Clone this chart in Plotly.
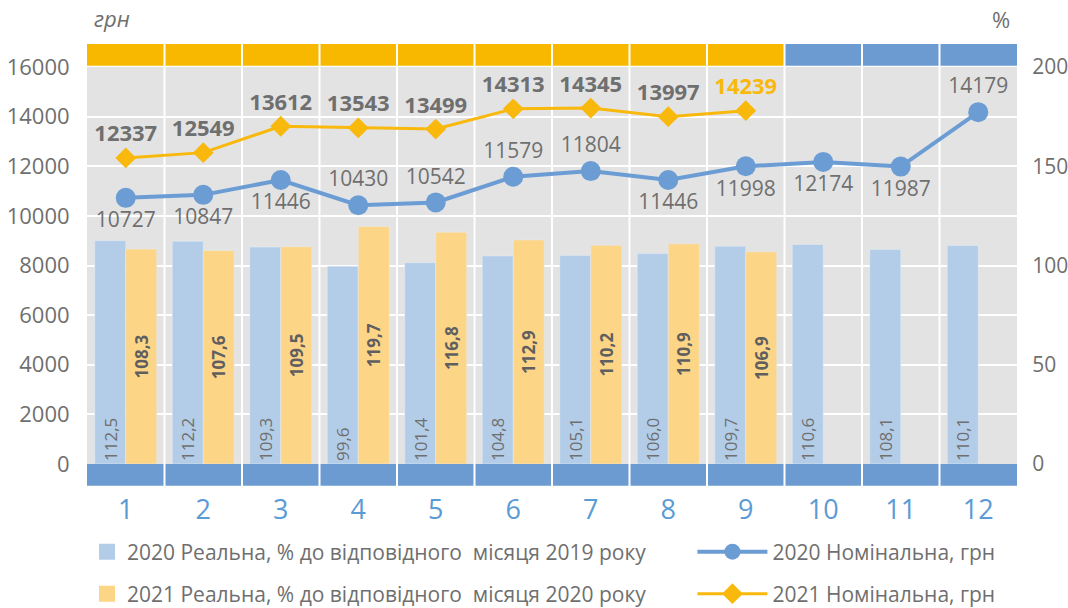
import plotly.graph_objects as go

months = [1, 2, 3, 4, 5, 6, 7, 8, 9, 10, 11, 12]
real_2020 = [112.5, 112.2, 109.3, 99.6, 101.4, 104.8, 105.1, 106.0, 109.7, 110.6, 108.1, 110.1]
real_2021 = [108.3, 107.6, 109.5, 119.7, 116.8, 112.9, 110.2, 110.9, 106.9]
nom_2020 = [10727, 10847, 11446, 10430, 10542, 11579, 11804, 11446, 11998, 12174, 11987, 14179]
nom_2021 = [12337, 12549, 13612, 13543, 13499, 14313, 14345, 13997, 14239]
pos_2020 = ["bottom center", "bottom center", "bottom center", "top center", "top center",
            "top center", "top center", "bottom center", "bottom center", "bottom center",
            "bottom center", "top center"]

name_r20 = "2020 Реальна, % до відповідного  місяця 2019 року"
name_r21 = "2021 Реальна, % до відповідного  місяця 2020 року"
name_n20 = "2020 Номінальна, грн"
name_n21 = "2021 Номінальна, грн"

FONT = "Open Sans"
GRAY = "#6f6f6f"
BLUE_BAR = "#b3cde8"
ORANGE_BAR = "#fdd587"
BLUE_LINE = "#6b9dd4"
ORANGE_LINE = "#f9b80c"
BAND_OR = "#f9b800"
BAND_BL = "#6b9bd1"

def fmt(v):
    return f"{v:.1f}".replace(".", ",")

fig = go.Figure()

fig.add_trace(go.Bar(
    x=months, y=real_2020, name=name_r20, marker_color=BLUE_BAR,
    text=[fmt(v) for v in real_2020], textposition="inside", insidetextanchor="start",
    textangle=-90, textfont=dict(family=FONT, size=17, color=GRAY),
    yaxis="y", showlegend=False,
))
fig.add_trace(go.Bar(
    x=months[:len(real_2021)], y=real_2021, name=name_r21, marker_color=ORANGE_BAR,
    text=["<b>" + fmt(v) + "</b>" for v in real_2021], textposition="inside",
    insidetextanchor="middle", textangle=-90,
    textfont=dict(family=FONT, size=17, color="#5f5f5f"),
    yaxis="y", showlegend=False,
))
fig.add_trace(go.Scatter(
    x=months, y=nom_2020, name=name_n20, mode="lines+markers+text",
    line=dict(color=BLUE_LINE, width=4), marker=dict(size=20, color=BLUE_LINE),
    text=[str(v) for v in nom_2020], textposition=pos_2020,
    textfont=dict(family=FONT, size=21, color=GRAY),
    yaxis="y2", legend="legend3", cliponaxis=False,
))
lab_colors = [GRAY] * (len(nom_2021) - 1) + [ORANGE_LINE]
fig.add_trace(go.Scatter(
    x=months[:len(nom_2021)], y=nom_2021, name=name_n21, mode="lines+markers+text",
    line=dict(color=ORANGE_LINE, width=3), marker=dict(size=16, color=ORANGE_LINE, symbol="diamond"),
    text=["<b>" + str(v) + "</b>" for v in nom_2021], textposition="top center",
    textfont=dict(family=FONT, size=22, color=lab_colors),
    yaxis="y2", legend="legend4", cliponaxis=False,
))
# legend proxies for the bar series (square swatches)
fig.add_trace(go.Scatter(x=[None], y=[None], name=name_r20, mode="markers",
                         marker=dict(symbol="square", size=18, color=BLUE_BAR),
                         yaxis="y", legend="legend"))
fig.add_trace(go.Scatter(x=[None], y=[None], name=name_r21, mode="markers",
                         marker=dict(symbol="square", size=18, color=ORANGE_BAR),
                         yaxis="y", legend="legend2"))

shapes = []
for i, m in enumerate(months):
    top_col = BAND_OR if i < len(nom_2021) else BAND_BL
    shapes.append(dict(type="rect", xref="x", yref="paper", x0=m - 0.5, x1=m + 0.5,
                       y0=1.003, y1=1.058, fillcolor=top_col, line_width=0, layer="below"))
    shapes.append(dict(type="rect", xref="x", yref="paper", x0=m - 0.5, x1=m + 0.5,
                       y0=-0.055, y1=0.0, fillcolor=BAND_BL, line_width=0, layer="below"))
for m in months[:-1]:
    shapes.append(dict(type="line", xref="x", yref="paper", x0=m + 0.5, x1=m + 0.5,
                       y0=-0.06, y1=1.06, line=dict(color="white", width=2), layer="below"))

leg_common = dict(orientation="h", xanchor="left", yanchor="middle", yref="container",
                  font=dict(family=FONT, size=21, color=GRAY), bgcolor="rgba(0,0,0,0)")

fig.update_layout(
    width=1068, height=608,
    margin=dict(l=87, r=51, t=67, b=144, autoexpand=False),
    paper_bgcolor="white", plot_bgcolor="#e3e3e3",
    barmode="group", bargap=0.2, bargroupgap=0,
    font=dict(family=FONT, color=GRAY),
    shapes=shapes,
    xaxis=dict(range=[0.5, 12.5], tickmode="array", tickvals=months,
               ticktext=[str(m) for m in months], showgrid=False, zeroline=False,
               ticks="outside", ticklen=22, tickcolor="rgba(0,0,0,0)",
               tickfont=dict(family=FONT, size=27, color="#5b9bd5")),
    yaxis=dict(range=[0, 200], side="right", tickvals=[0, 50, 100, 150, 200],
               showgrid=True, gridcolor="white", gridwidth=1.5, zeroline=False,
               minor=dict(dtick=25, showgrid=True, gridcolor="white", gridwidth=1.5),
               ticks="outside", ticklen=10, tickcolor="rgba(0,0,0,0)",
               tickfont=dict(family=FONT, size=21, color=GRAY)),
    yaxis2=dict(range=[0, 16000], side="left", overlaying="y", dtick=2000,
                tickformat="d", showgrid=False, zeroline=False,
                ticks="outside", ticklen=12, tickcolor="rgba(0,0,0,0)",
                tickfont=dict(family=FONT, size=22, color=GRAY)),
    legend=dict(x=0.0, y=1 - 552 / 608, itemwidth=30, **leg_common),
    legend2=dict(x=0.0, y=1 - 594 / 608, itemwidth=30, **leg_common),
    legend3=dict(x=0.651, y=1 - 552 / 608, itemwidth=70, **leg_common),
    legend4=dict(x=0.651, y=1 - 594 / 608, itemwidth=70, **leg_common),
    annotations=[
        dict(text="<i>грн</i>", xref="paper", yref="paper", x=0.005, y=1.123, xanchor="left",
             yanchor="middle", showarrow=False, font=dict(family=FONT, size=22, color=GRAY)),
        dict(text="%", xref="paper", yref="paper", x=0.995, y=1.12, xanchor="right",
             yanchor="middle", showarrow=False, font=dict(family=FONT, size=22, color=GRAY)),
    ],
)

fig.write_html("out.html", config={"displayModeBar": False},
               post_script="document.body.style.margin='0px';")
